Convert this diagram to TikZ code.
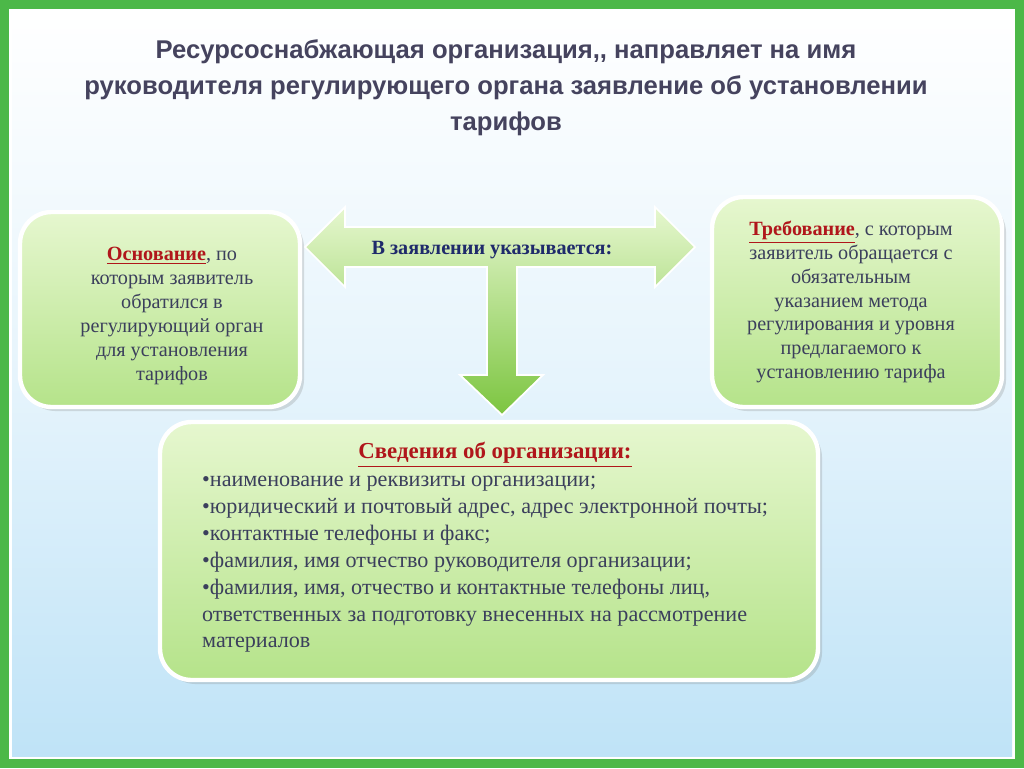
\documentclass[tikz,border=0pt]{standalone}
\usepackage{fontspec}
\setmainfont{Liberation Serif}
\newfontfamily\titlefont{Liberation Sans}
\usetikzlibrary{positioning,calc,shadows}
\definecolor{frameg}{HTML}{4CB848}
\definecolor{boxg}{HTML}{B5E38A}
\definecolor{boxgl}{HTML}{E6F7CF}
\definecolor{txtc}{HTML}{3B3F5C}
\definecolor{titlec}{HTML}{45435E}
\definecolor{redt}{HTML}{B0161B}
\definecolor{navyt}{HTML}{1F2A6B}
\definecolor{skyb}{HTML}{BFE3F7}
\definecolor{arrg}{HTML}{7CC540}
\newcommand{\hl}[1]{\textcolor{redt}{\underline{\textbf{#1}}}}
\begin{document}
\begin{tikzpicture}[
    x=0.02cm, y=-0.02cm,
    infobox/.style={rectangle, draw=white, line width=2.5pt, rounded corners=18pt,
        top color=boxgl, bottom color=boxg, drop shadow={opacity=0.25}},
    boxtext/.style={text=txtc, font=\fontsize{11.5}{13.6}\selectfont, align=center},
    arrowshape/.style={draw=white, line width=1pt, top color=boxgl, bottom color=arrg}
]
\useasboundingbox (0,0) rectangle (1024,768);
% frame and background
\fill[frameg] (0,0) rectangle (1024,768);
\fill[white] (9,9) rectangle (1015,759);
\shade[top color=white, bottom color=skyb, middle color=skyb!40] (12,12) rectangle (1012,756);

% title
\node[text=titlec, font=\titlefont\bfseries\fontsize{14.6}{20.5}\selectfont, align=center] (title) at (506,88)
  {Ресурсоснабжающая организация,, направляет на имя\\руководителя регулирующего органа заявление об установлении\\тарифов};

% boxes
\draw[infobox] (20,212) rectangle (300,407);
\node[boxtext] (osn) at (172,316) {\hl{Основание}, по\\которым заявитель\\обратился в\\регулирующий орган\\для установления\\тарифов};
\draw[infobox] (712,197) rectangle (1002,407);
\node[boxtext] (treb) at (851,302) {\hl{Требование}, с которым\\заявитель обращается с\\обязательным\\указанием метода\\регулирования и уровня\\предлагаемого к\\установлению тарифа};
\draw[infobox] (160,422) rectangle (818,680);
\node[boxtext, font=\fontsize{13}{16}\selectfont] (sved) at (495,455) {\hl{Сведения об организации:}};
\node[boxtext, align=left, font=\fontsize{12.6}{15.3}\selectfont, anchor=north west] (list) at (196,470)
  {•наименование и реквизиты организации;\\
   •юридический и почтовый адрес, адрес электронной почты;\\
   •контактные телефоны и факс;\\
   •фамилия, имя отчество руководителя организации;\\
   •фамилия, имя, отчество и контактные телефоны лиц,\\
   ответственных за подготовку внесенных на рассмотрение\\
   материалов};

% arrows
\draw[arrowshape] (305,247) -- (345,207) -- (345,227) -- (655,227)
  -- (655,207) -- (695,247) -- (655,287) -- (655,267) -- (517,267) -- (517,375) -- (543,375)
  -- (502,415) -- (460,375) -- (487,375) -- (487,267) -- (345,267) -- (345,287) -- cycle;
\node[text=navyt, font=\bfseries\fontsize{11.5}{13}\selectfont] (ukaz) at (492,250) {В заявлении указывается:};
\end{tikzpicture}
\end{document}
